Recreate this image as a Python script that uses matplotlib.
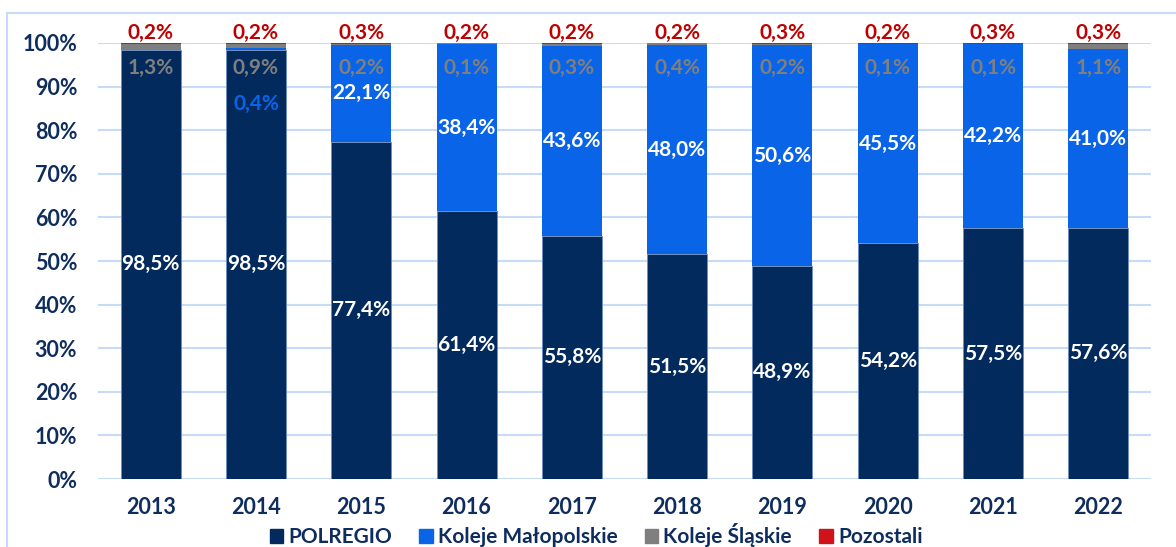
import matplotlib
matplotlib.use("Agg")
import matplotlib.pyplot as plt
from matplotlib.patches import Rectangle
from matplotlib.lines import Line2D
import numpy as np

years = ["2013", "2014", "2015", "2016", "2017", "2018", "2019", "2020", "2021", "2022"]
polregio = [98.5, 98.5, 77.4, 61.4, 55.8, 51.5, 48.9, 54.2, 57.5, 57.6]
malopolskie = [0.0, 0.4, 22.1, 38.4, 43.6, 48.0, 50.6, 45.5, 42.2, 41.0]
slaskie = [1.3, 0.9, 0.2, 0.1, 0.3, 0.4, 0.2, 0.1, 0.1, 1.1]
pozostali = [0.2, 0.2, 0.3, 0.2, 0.2, 0.2, 0.3, 0.2, 0.3, 0.3]
series_names = ["POLREGIO", "Koleje Małopolskie", "Koleje Śląskie", "Pozostali"]
yticks = [0, 10, 20, 30, 40, 50, 60, 70, 80, 90, 100]

c_pol = "#032a5c"
c_km = "#0a64e8"
c_ks = "#7f7f7f"
c_poz = "#d0121b"
txt = "#0e2d5e"

plt.rcParams['font.family'] = ['Lato', 'DejaVu Sans']

fig = plt.figure(figsize=(11.76, 5.47), dpi=100)
ax = fig.add_axes([98/1176, 1-479/547, 1053/1176, 436/547])

x = np.arange(len(years))
w = 0.57
ec = "#6f8fbf"
pol = np.array(polregio); km = np.array(malopolskie); ks = np.array(slaskie); pz = np.array(pozostali)
ax.bar(x, pol, w, color=c_pol, edgecolor=ec, linewidth=0.6, zorder=3)
ax.bar(x, km, w, bottom=pol, color=c_km, linewidth=0, zorder=3)
ax.bar(x, ks, w, bottom=pol+km, color=c_ks, linewidth=0, zorder=3)
ax.bar(x, pz, w, bottom=pol+km+ks, color=c_poz, linewidth=0, zorder=3)

def fmt(v):
    return f"{v:.1f}%".replace(".", ",")

fs = 15
for i in range(len(years)):
    ax.text(x[i], pol[i]/2, fmt(pol[i]), ha="center", va="center", color="white",
            fontsize=fs, fontweight="bold", zorder=5)
    if km[i] >= 1:
        ax.text(x[i], pol[i] + km[i]/2, fmt(km[i]), ha="center", va="center", color="white",
                fontsize=fs, fontweight="bold", zorder=5)
    elif km[i] > 0:
        ax.text(x[i], 86.0, fmt(km[i]), ha="center", va="center", color=c_km,
                fontsize=fs, fontweight="bold", zorder=5)
    ax.text(x[i], 94.3, fmt(ks[i]), ha="center", va="center", color=c_ks,
            fontsize=fs, fontweight="bold", zorder=5)
    ax.text(x[i], 102.4, fmt(pz[i]), ha="center", va="center", color="#c00000",
            fontsize=fs, fontweight="bold", zorder=5, clip_on=False)

ax.set_xlim(-0.5, len(years)-0.5)
ax.set_ylim(0, 100)
ax.set_yticks(yticks)
ax.set_yticklabels([f"{t}%" for t in yticks])
ax.set_xticks(x)
ax.set_xticklabels(years)
ax.tick_params(axis="both", length=0, labelsize=15.5, labelcolor=txt)
ax.tick_params(axis="y", pad=15)
ax.tick_params(axis="x", pad=13)
for lab in ax.get_xticklabels() + ax.get_yticklabels():
    lab.set_fontweight("bold")
ax.grid(axis="y", color="#c6dbf7", linewidth=1.5, zorder=0)
for s in ax.spines.values():
    s.set_visible(False)

handles = [Rectangle((0, 0), 1, 1, color=c) for c in [c_pol, c_km, c_ks, c_poz]]
leg = fig.legend(handles, series_names, loc="center", bbox_to_anchor=(596/1176, 1-535/547),
                 ncol=4, frameon=False, fontsize=15, handlelength=0.65, handleheight=0.65,
                 handletextpad=0.25, columnspacing=1.3, borderpad=0)
for t in leg.get_texts():
    t.set_color(txt)
    t.set_fontweight("bold")

# outer frame
fig.add_artist(Line2D([7/1176, 7/1176], [0, 1-13/547], transform=fig.transFigure,
                      color="#c6dbf7", linewidth=1.5))
fig.add_artist(Line2D([7/1176, 1], [1-13/547, 1-13/547], transform=fig.transFigure,
                      color="#c6dbf7", linewidth=1.5))

fig.savefig("out.png", dpi=100)
